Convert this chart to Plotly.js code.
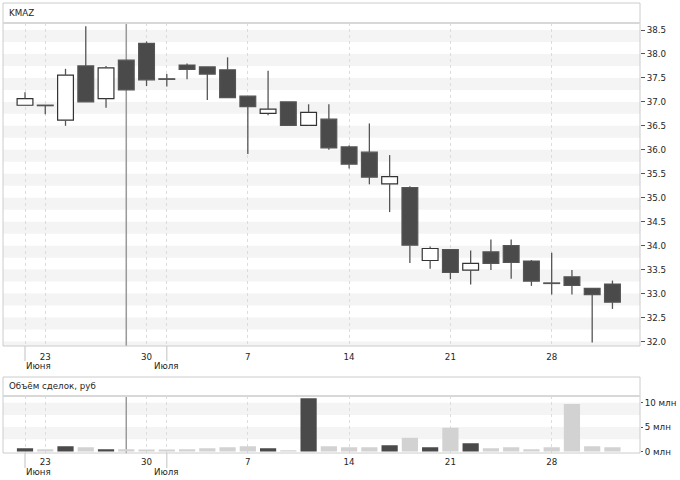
<!DOCTYPE html>
<html>
<head>
<meta charset="utf-8">
<script src="https://cdn.plot.ly/plotly-3.0.1.min.js"></script>
<style>
html,body{margin:0;padding:0;background:#fff;}
#chart{width:680px;height:480px;}
</style>
</head>
<body>
<div id="chart"></div>
<script>
// ---- data (KMAZ, daily, trading days only) ----
const dates = ['2014-06-20','2014-06-23','2014-06-24','2014-06-25','2014-06-26','2014-06-27',
  '2014-06-30','2014-07-01','2014-07-02','2014-07-03','2014-07-04',
  '2014-07-07','2014-07-08','2014-07-09','2014-07-10','2014-07-11',
  '2014-07-14','2014-07-15','2014-07-16','2014-07-17','2014-07-18',
  '2014-07-21','2014-07-22','2014-07-23','2014-07-24','2014-07-25',
  '2014-07-28','2014-07-29','2014-07-30','2014-07-31'];
const openP  = [36.93,36.93,36.62,37.75,37.07,37.87,38.22,37.48,37.77,37.73,37.67,37.12,36.76,37.00,36.51,36.64,36.06,35.95,35.29,35.21,33.69,33.92,33.49,33.87,34.00,33.68,33.22,33.35,33.11,33.20];
const highP  = [37.20,36.93,37.69,38.58,37.75,37.87,38.26,37.58,37.80,37.73,37.93,37.12,37.65,37.00,36.95,36.95,36.09,36.55,35.89,35.24,33.98,33.92,33.90,34.13,34.13,33.70,33.85,33.49,33.11,33.27];
const lowP   = [36.93,36.74,36.50,37.00,36.88,37.25,37.33,37.32,37.47,37.04,37.09,35.91,36.72,36.51,36.50,36.00,35.61,35.28,34.70,33.64,33.52,33.30,33.19,33.49,33.31,33.16,32.98,32.98,31.98,32.68];
const closeP = [37.07,36.92,37.56,37.00,37.71,37.25,37.46,37.47,37.68,37.58,37.09,36.90,36.85,36.51,36.78,36.04,35.70,35.43,35.44,34.01,33.94,33.44,33.63,33.63,33.65,33.26,33.21,33.17,32.98,32.82];
const volumeMln = [0.65,0.45,1.06,0.85,0.45,0.45,0.40,0.40,0.45,0.65,0.85,1.06,0.65,0.25,10.9,1.06,0.85,0.85,1.27,2.83,0.85,4.88,1.68,0.65,0.85,0.45,0.85,9.73,1.06,0.85];

const dayTickIdx   = [0, 1, 6, 7, 11, 16, 21, 26];
const dayTickText  = ['', '23', '30', '', '7', '14', '21', '28'];
const monthIdx     = [0, 7];
const monthText    = ['Июня', 'Июля'];
const priceTicks   = [32.0,32.5,33.0,33.5,34.0,34.5,35.0,35.5,36.0,36.5,37.0,37.5,38.0,38.5];
const volTicks     = [0, 5, 10];
const volTickText  = ['0 млн', '5 млн', '10 млн'];
const markerIdx    = 5;

// ---- geometry helpers (pixel -> paper) ----
const W = 680, H = 480;
const px = v => v / W;
const py = v => 1 - v / H;

const idx = dates.map((d, i) => i);
const up = idx.map(i => closeP[i] >= openP[i]);
const DARK = '#4a4a4a';
const FONT = 'DejaVu Sans, Verdana, sans-serif';
const FS = 8.7;
const TXT = '#262626';

// candle bodies
const bodyBase = idx.map(i => Math.min(openP[i], closeP[i]));
const bodyLen  = idx.map(i => Math.max(Math.abs(closeP[i] - openP[i]), 0.012));
const bodies = {
  type: 'bar', x: idx, y: bodyLen, base: bodyBase, width: 0.78,
  marker: {
    color: up.map(u => u ? '#ffffff' : DARK),
    line: {color: up.map(u => u ? '#333333' : '#555555'), width: 1.2}
  },
  xaxis: 'x', yaxis: 'y', hoverinfo: 'skip', showlegend: false
};

// wicks (upper and lower segments, kept outside the bodies)
const wx = [], wy = [];
idx.forEach(i => {
  const top = Math.max(openP[i], closeP[i]);
  const bot = Math.min(openP[i], closeP[i]);
  if (highP[i] > top) { wx.push(i, i, null); wy.push(highP[i], top, null); }
  if (lowP[i] < bot)  { wx.push(i, i, null); wy.push(bot, lowP[i], null); }
});
const wicks = {
  type: 'scatter', mode: 'lines', x: wx, y: wy,
  line: {color: '#555555', width: 1.3},
  xaxis: 'x', yaxis: 'y', hoverinfo: 'skip', showlegend: false
};

// volume bars
const vol = {
  type: 'bar', x: idx, y: volumeMln, width: 0.8,
  marker: {color: up.map(u => u ? DARK : '#d2d2d2'), line: {width: 0}},
  xaxis: 'x2', yaxis: 'y2', hoverinfo: 'skip', showlegend: false
};

// ---- shapes ----
const shapes = [];
priceTicks.forEach(t => shapes.push({
  type: 'rect', xref: 'x domain', yref: 'y', x0: 0, x1: 1, y0: t - 0.25, y1: t,
  fillcolor: '#f4f4f4', line: {width: 0}, layer: 'below'
}));
[[7.5, 10], [2.5, 5]].forEach(b => shapes.push({
  type: 'rect', xref: 'x2 domain', yref: 'y2', x0: 0, x1: 1, y0: b[0], y1: b[1],
  fillcolor: '#f4f4f4', line: {width: 0}, layer: 'below'
}));
shapes.push({type: 'line', xref: 'x', yref: 'y domain', x0: markerIdx, x1: markerIdx, y0: 0, y1: 1, line: {color: '#999999', width: 1.5}, layer: 'below'});
shapes.push({type: 'line', xref: 'x2', yref: 'y2 domain', x0: markerIdx, x1: markerIdx, y0: 0, y1: 1, line: {color: '#999999', width: 1.5}, layer: 'below'});
monthIdx.forEach(m => {
  shapes.push({type: 'line', xref: 'x', yref: 'paper', x0: m, x1: m, y0: py(346), y1: py(361), line: {color: '#cccccc', width: 1.2}});
  shapes.push({type: 'line', xref: 'x2', yref: 'paper', x0: m, x1: m, y0: py(453), y1: py(468), line: {color: '#cccccc', width: 1.2}});
});
const border = {color: '#cccccc', width: 1};
shapes.push({type: 'rect', xref: 'paper', yref: 'paper', x0: px(3), x1: px(640), y0: py(346), y1: py(3), line: border});
shapes.push({type: 'line', xref: 'paper', yref: 'paper', x0: px(3), x1: px(640), y0: py(23), y1: py(23), line: {color: '#d8d8d8', width: 2}});
shapes.push({type: 'rect', xref: 'paper', yref: 'paper', x0: px(3), x1: px(640), y0: py(453), y1: py(377), line: border});
shapes.push({type: 'line', xref: 'paper', yref: 'paper', x0: px(3), x1: px(640), y0: py(396), y1: py(396), line: {color: '#d8d8d8', width: 2}});

// ---- annotations ----
const annotations = [
  {xref: 'paper', yref: 'paper', x: px(7), y: py(13), xanchor: 'left', yanchor: 'middle', text: 'KMAZ', showarrow: false, font: {family: FONT, size: FS, color: TXT}},
  {xref: 'paper', yref: 'paper', x: px(7), y: py(386), xanchor: 'left', yanchor: 'middle', text: 'Объём сделок, руб', showarrow: false, font: {family: FONT, size: FS, color: TXT}}
];
monthIdx.forEach((m, k) => {
  annotations.push({xref: 'x', yref: 'paper', x: m, y: py(365.5), xanchor: k === 0 ? 'left' : 'center', yanchor: 'middle', xshift: k === 0 ? -1 : 0, text: monthText[k], showarrow: false, font: {family: FONT, size: FS, color: TXT}});
  annotations.push({xref: 'x2', yref: 'paper', x: m, y: py(472), xanchor: k === 0 ? 'left' : 'center', yanchor: 'middle', xshift: k === 0 ? -1 : 0, text: monthText[k], showarrow: false, font: {family: FONT, size: FS, color: TXT}});
});

const xRange = [-1.086, 30.36];
const xCommon = {
  domain: [px(3), px(640)], range: xRange, fixedrange: true,
  tickmode: 'array', tickvals: dayTickIdx, ticktext: dayTickText,
  showgrid: true, gridcolor: '#dcdcdc', griddash: 'dot', gridwidth: 1,
  zeroline: false, showline: false, ticks: '',
  tickfont: {family: FONT, size: FS, color: TXT}
};

const layout = {
  width: W, height: H,
  margin: {l: 0, r: 0, t: 0, b: 0},
  paper_bgcolor: '#ffffff', plot_bgcolor: '#ffffff',
  showlegend: false, barmode: 'overlay',
  xaxis: Object.assign({}, xCommon, {anchor: 'y', ticklabelstandoff: 4}),
  xaxis2: Object.assign({}, xCommon, {anchor: 'y2', matches: 'x', ticklabelstandoff: 2}),
  yaxis: {
    domain: [py(346), py(23)], range: [31.906, 38.646], anchor: 'x', side: 'right',
    tickmode: 'array', tickvals: priceTicks, ticktext: priceTicks.map(v => v.toFixed(1)),
    ticks: 'outside', ticklen: 4, tickcolor: '#555', tickwidth: 1,
    showgrid: false, zeroline: false, showline: false, fixedrange: true,
    tickfont: {family: FONT, size: FS, color: TXT}
  },
  yaxis2: {
    domain: [py(453.3), py(396)], range: [-0.37, 11.37], anchor: 'x2', side: 'right',
    tickmode: 'array', tickvals: volTicks, ticktext: volTickText,
    ticks: 'outside', ticklen: 2, tickcolor: '#555', tickwidth: 1,
    showgrid: false, zeroline: false, showline: false, fixedrange: true,
    tickfont: {family: FONT, size: FS, color: TXT}
  },
  shapes: shapes,
  annotations: annotations
};

Plotly.newPlot('chart', [vol, bodies, wicks], layout, {staticPlot: true, displayModeBar: false});
</script>
</body>
</html>
